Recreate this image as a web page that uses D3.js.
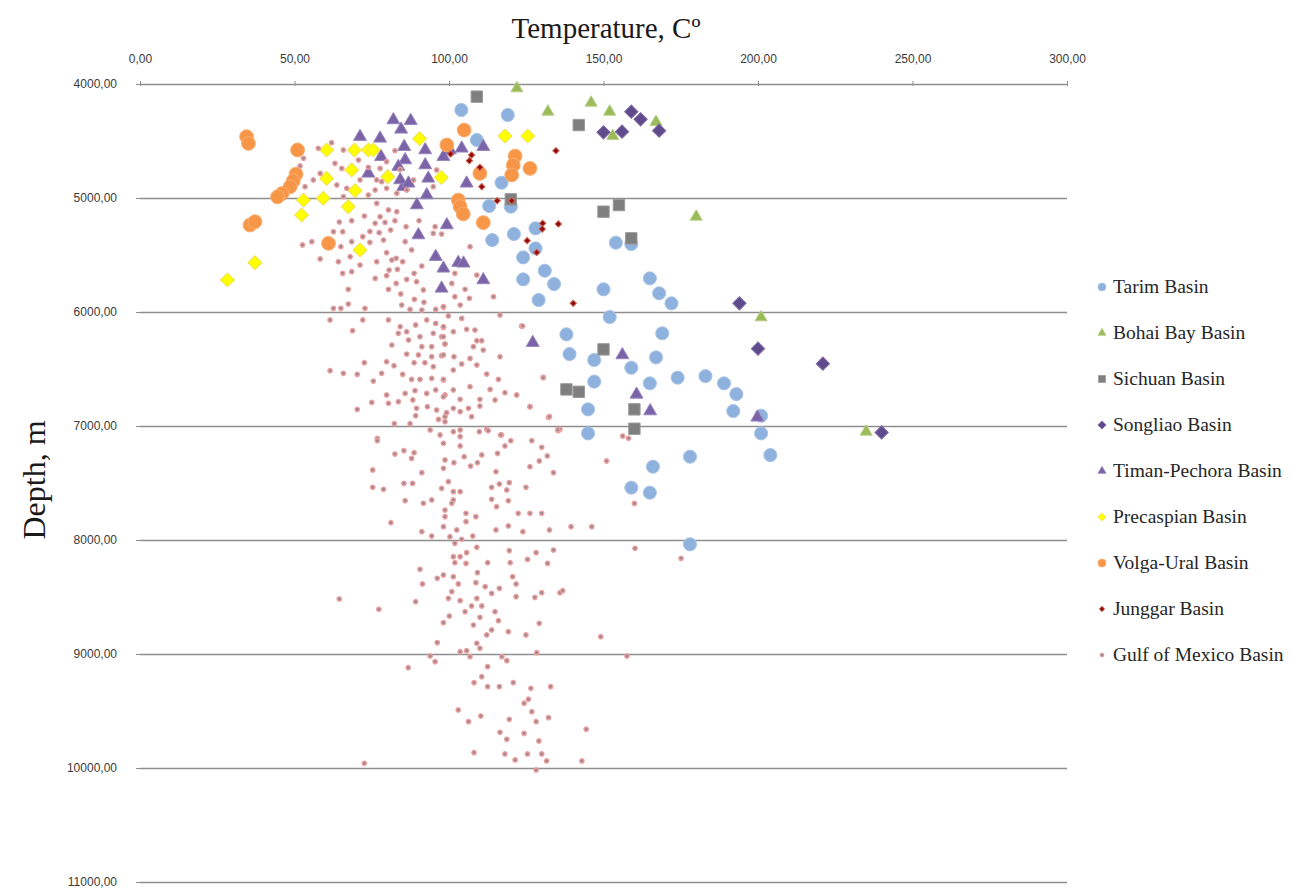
<!DOCTYPE html>
<html>
<head>
<meta charset="utf-8">
<script src="https://cdn.jsdelivr.net/npm/d3@7"></script>
<style>
  body { margin: 0; background: #fff; }
</style>
</head>
<body>
<div id="scatter"></div>
<script>
// SVG area
var svgWidth = 1292;
var svgHeight = 890;

// chart margins (axis sits on top, legend on the right)
var chartMargin = { top: 84, right: 225, bottom: 8, left: 140 };
var chartWidth = svgWidth - chartMargin.left - chartMargin.right;
var chartHeight = svgHeight - chartMargin.top - chartMargin.bottom;

// tick values
var xTicks = [0, 50, 100, 150, 200, 250, 300];
var yTicks = [4000, 5000, 6000, 7000, 8000, 9000, 10000, 11000];

// series names, in legend order
var basins = ["Tarim Basin", "Bohai Bay Basin", "Sichuan Basin", "Songliao Basin",
  "Timan-Pechora Basin", "Precaspian Basin", "Volga-Ural Basin", "Junggar Basin",
  "Gulf of Mexico Basin"];

// [temperature C, depth m]
var tarimPts = [[104,4228],[119,4272],[109,4491],[117,4866],[113,5070],[120,5076],[121,5316],
  [114,5369],[128,5266],[128,5442],[124,5521],[131,5638],[134,5755],[124,5714],[129,5895],
  [154,5392],[159,5404],[150,5801],[165,5705],[168,5836],[172,5924],[152,6044],[138,6196],
  [169,6187],[139,6369],[147,6421],[159,6489],[167,6398],[147,6611],[165,6626],[174,6576],
  [183,6562],[189,6626],[193,6720],[145,6854],[192,6869],[201,6910],[145,7065],[201,7065],
  [204,7255],[178,7269],[166,7357],[159,7541],[165,7585],[178,8038]];

var bohaiPts = [[122,4038],[132,4243],[146,4164],[152,4243],[153,4456],[167,4333],[180,5164],
  [201,6047],[235,7050]];

var sichuanPts = [[109,4111],[142,4360],[150,5120],[155,5062],[159,5354],[120,5012],[150,6328],
  [138,6679],[142,6700],[160,6854],[160,7024]];

var songliaoPts = [[159,4243],[162,4310],[150,4424],[156,4418],[168,4409],[194,5924],[200,6322],
  [221,6453],[240,7056]];

var timanPts = [[82,4316],[87.6,4322],[84.5,4398],[71.2,4462],[77.7,4477],[78,4638],[85.5,4550],
  [92.3,4579],[92.3,4711],[93.3,4828],[85.8,4667],[85.2,4901],[84.2,4842],[73.9,4784],
  [89.6,5062],[92.8,4974],[99.3,5237],[90.1,5325],[95.7,5515],[98.2,5617],[103,5567],
  [104.7,5573],[97.6,5793],[100.3,4579],[104.1,4564],[105.7,4871],[98.2,4638],[111.1,4550],
  [111.1,5719],[83.6,4725],[86.9,4871],[127.1,6269],[156.1,6377],[160.7,6723],[165.1,6869],
  [199.8,6924]];

var precaspianPts = [[90.5,4480],[60.4,4579],[69.4,4579],[73.9,4579],[75.5,4579],[68.5,4754],
  [60.4,4828],[80.2,4813],[97.5,4820],[69.6,4935],[52.9,5018],[59.3,5003],[67.4,5076],
  [52.3,5149],[71.2,5456],[37.2,5567],[28.3,5719],[118.1,4456],[125.5,4456]];

var volgaPts = [[34.5,4462],[35.1,4521],[51,4579],[50.5,4790],[49.6,4850],[48.6,4901],[46,4960],
  [44.5,4990],[35.6,5237],[37.2,5208],[61,5398],[104.9,4404],[99.3,4535],[121.4,4632],
  [120.8,4711],[120.3,4798],[126.2,4740],[110,4784],[103,5018],[103.6,5076],[104.6,5140],
  [111.1,5216]];

var junggarPts = [[134.6,4585],[100.5,4614],[107.3,4623],[106.6,4673],[110,4731],[110.6,4901],
  [115.6,5024],[120.3,5024],[130.3,5222],[135.4,5228],[130.2,5272],[125.3,5374],[128.4,5477],
  [140.2,5924]];

var gulfPts = [
  [62.0,4515],[57.7,4564],[65.8,4579],[52.9,4652],[51.8,4719],[63.1,4696],[65.3,4740],[73.9,4731],
  [77.7,4740],[79.8,4681],[82.5,4585],[53.4,4901],[56.1,4842],[63.7,4886],[66.9,4915],[76.1,4930],
  [78.2,4857],[84.2,4749],[83.1,4959],[88.5,4842],[79.8,4915],[71.2,4842],[58.3,4784],[96.0,4754],
  [94.9,4901],[65.8,4988],[73.9,4974],[70.7,4667],[76.6,4842],[86.3,4930],
  [76.6,5047],[83.1,5120],[80.4,5105],[72.6,5158],[68.5,5199],[64.5,5211],[77.7,5164],[76.1,5222],
  [79.3,5214],[82.5,5199],[86.1,5252],[90.3,5199],[62.6,5296],[65.6,5296],[72.1,5339],[74.4,5293],
  [77.4,5304],[81.1,5281],[55.6,5383],[52.6,5412],[65.0,5427],[68.5,5383],[74.4,5389],[78.8,5369],
  [85.8,5383],[87.9,5456],[94.9,5310],[58.3,5535],[64.2,5559],[68.0,5515],[71.2,5588],[76.6,5559],
  [79.8,5480],[81.5,5544],[82.9,5529],[85.0,5559],[80.6,5632],[83.3,5626],[68.5,5646],[65.6,5661],
  [76.1,5705],[79.8,5681],[82.9,5749],[86.3,5714],[88.7,5661],[91.2,5597],[89.5,5734],[91.7,5807],
  [67.4,5801],[80.4,5801],[84.4,5842],[88.8,5889],[91.9,5915],[67.4,5930],[62.6,5968],[65.0,5968],
  [72.8,5968],[84.7,5939],[87.4,5977],[91.2,5983],[95.7,5977],[98.2,5959],[61.5,6070],[72.1,6070],
  [80.4,6070],[84.2,6129],[89.2,6114],[92.8,6070],[95.7,6100],[98.2,6135],[68.8,6164],[83.6,6187],
  [86.3,6173],[90.6,6217],[94.9,6187],[97.6,6217],[81.5,6290],[86.9,6246],[91.2,6304],[94.4,6304],
  [98.7,6281],[86.3,6369],[90.1,6377],[94.4,6392],[97.6,6383],[72.6,6445],[79.8,6436],[82.2,6471],
  [88.7,6445],[92.2,6445],[94.9,6480],[61.5,6515],[65.8,6538],[70.3,6547],[78.2,6538],[85.0,6547],
  [87.9,6591],[90.6,6591],[94.4,6582],[98.2,6597],[75.5,6606],[85.8,6714],[89.0,6690],[92.8,6714],
  [95.7,6684],[98.7,6728],[79.8,6728],[83.6,6787],[88.3,6772],[75.0,6793],[80.4,6801],[89.5,6845],
  [93.0,6831],[96.0,6860],[70.3,6854],[89.2,6910],[96.6,6942],[98.7,6918],[82.3,6980],[87.4,6980],
  [93.9,7035],[76.8,7108],[97.1,7079],
  [95.5,5252],[97.6,5316],[106.8,5427],[101.9,5661],[109.0,5676],[100.9,5749],[105.2,5801],
  [114.4,5866],[101.9,5866],[106.6,5880],[98.2,5953],[103.6,5939],[99.8,6035],[104.1,6056],
  [116.5,6027],[123.5,6123],[98.2,6129],[101.4,6173],[105.7,6152],[108.4,6158],[98.2,6217],
  [109.0,6252],[110.6,6252],[98.7,6281],[107.9,6304],[111.1,6334],[98.2,6377],[101.6,6392],
  [106.8,6407],[116.5,6392],[104.1,6456],[109.0,6465],[101.4,6509],[112.2,6544],[116.0,6591],
  [130.5,6573],[98.2,6591],[106.8,6655],[101.4,6684],[113.3,6679],[118.1,6708],[121.9,6728],
  [98.2,6743],[103.6,6766],[110.0,6766],[114.9,6772],[101.4,6845],[106.3,6845],[110.0,6825],
  [126.2,6831],[99.2,6883],[103.6,6874],[107.3,6918],[98.7,6962],[132.2,6924],[112.2,7029],
  [117.0,7079],[103.6,7035],[135.9,7029],
  [76.8,7129],[82.5,7246],[85.4,7216],[88.7,7234],[87.9,7284],[75.3,7386],[91.2,7409],[75.3,7538],
  [78.8,7555],[85.4,7503],[88.2,7503],[85.8,7655],[91.7,7678],[94.4,7649],[81.2,7848],[91.2,7927],
  [94.4,7965],[90.6,8257],[91.4,8386],[96.2,8336],[64.5,8517],[77.3,8608],[89.2,8541],[96.2,8900],
  [93.9,9017],[95.5,9067],[86.8,9120],
  [101.4,7050],[103.6,7093],[98.2,7152],[109.8,7050],[112.7,7041],[116.7,7079],[120.0,7129],
  [126.8,7129],[135.4,7041],[103.6,7175],[98.7,7298],[101.6,7322],[104.9,7269],[107.0,7351],
  [109.2,7322],[110.6,7254],[115.7,7240],[118.1,7175],[130.0,7187],[131.8,7263],[129.2,7307],
  [126.2,7357],[133.8,7409],[151.0,7307],[98.2,7371],[115.2,7401],[99.8,7488],[97.6,7547],
  [101.4,7576],[103.6,7576],[113.8,7538],[116.3,7509],[119.5,7497],[118.7,7561],[124.9,7538],
  [113.8,7643],[119.2,7655],[115.4,7708],[101.4,7649],[100.9,7678],[98.7,7737],[98.7,7795],
  [105.5,7766],[105.5,7839],[108.7,7795],[122.4,7766],[126.2,7766],[130.0,7766],[98.2,7883],
  [102.5,7912],[115.2,7912],[119.2,7877],[123.9,7927],[132.5,7912],[139.5,7883],[146.2,7883],
  [100.3,7971],[104.1,7994],[107.7,7965],[101.9,8029],[109.0,8064],[105.7,8111],[101.4,8146],
  [103.6,8146],[101.9,8199],[105.5,8205],[112.5,8199],[119.5,8093],[119.8,8199],[125.4,8170],
  [128.2,8111],[131.9,8205],[133.8,8088],[109.2,8286],[98.2,8307],[101.4,8322],[120.6,8322],
  [121.7,8386],[103.0,8386],[108.7,8374],[111.7,8409],[116.3,8424],[113.8,8468],[100.9,8453],
  [99.8,8512],[103.6,8532],[109.0,8512],[121.7,8497],[127.8,8503],[130.0,8462],[135.9,8462],
  [136.8,8445],[107.3,8579],[110.6,8579],[105.2,8629],[100.1,8667],[110.0,8678],[114.9,8629],
  [116.0,8708],[98.2,8725],[107.9,8746],[113.8,8789],[112.2,8833],[119.2,8804],[124.9,8833],
  [129.2,8731],[149.1,8848],[109.0,8906],[110.0,8950],[103.6,8980],[105.7,8971],[106.8,9023],
  [117.1,9023],[118.7,9058],[128.4,8988],[112.5,9111],[110.6,9199],[157.6,9018],
  [108.1,9251],[112.5,9286],[116.3,9286],[120.8,9251],[126.5,9301],[132.9,9286],[125.7,9397],
  [124.3,9432],[103.0,9491],[110.3,9544],[106.3,9593],[119.5,9573],[126.8,9506],[128.2,9593],
  [132.2,9558],[116.5,9687],[118.7,9748],[124.3,9696],[129.1,9763],[144.4,9660],[108.1,9865],
  [118.1,9877],[121.4,9929],[125.4,9877],[130.0,9877],[131.6,9938],[143.0,9938],[72.6,9959],
  [128.2,10017],
  [123.8,6123],[130.5,6576],[126.2,6831],[132.5,6918],[135.2,7035],[156.2,7088],[158.1,7108],
  [160.0,7679],[160.2,8073],[175.1,8161]];

var seriesData = [tarimPts, bohaiPts, sichuanPts, songliaoPts, timanPts, precaspianPts,
  volgaPts, junggarPts, gulfPts];

// marker styles per series
var markerStyle = [
  { shape: d3.symbolCircle,   size: 135, fill: "#8fb1dd", stroke: "#a9c4e6", rot: 0,  lsize: 50 },
  { shape: d3.symbolTriangle, size: 62,  fill: "#9bbb59", stroke: "#b4cd82", rot: 0,  lsize: 28 },
  { shape: d3.symbolSquare,   size: 130, fill: "#7f7f7f", stroke: "#9a9a9a", rot: 0,  lsize: 50 },
  { shape: d3.symbolSquare,   size: 88,  fill: "#5f4a8b", stroke: "#7d6aa3", rot: 45, lsize: 34 },
  { shape: d3.symbolTriangle, size: 72,  fill: "#7b63a8", stroke: "#9784bd", rot: 0,  lsize: 28 },
  { shape: d3.symbolSquare,   size: 95,  fill: "#ffff00", stroke: "#f0e050", rot: 45, lsize: 34 },
  { shape: d3.symbolCircle,   size: 150, fill: "#f79646", stroke: "#f9ae72", rot: 0,  lsize: 50 },
  { shape: d3.symbolSquare,   size: 20,  fill: "#8b0a0a", stroke: "#d0604f", rot: 45, lsize: 14 },
  { shape: d3.symbolCircle,   size: 15,  fill: "#a08890", stroke: "#eda0a0", rot: 0,  lsize: 12 }
];

var svg = d3.select("#scatter")
  .append("svg")
  .attr("width", svgWidth)
  .attr("height", svgHeight)
  .style("background", "#fff");

var chartGroup = svg.append("g")
  .attr("transform", `translate(${chartMargin.left}, ${chartMargin.top})`);

var xScale = d3.scaleLinear().domain([0, 300]).range([0, 927]);
var yScale = d3.scaleLinear().domain([4000, 11000]).range([0, 798]);

var fmt = d => d3.format(".2f")(d).replace(".", ",");

// horizontal gridlines via left axis
var gridAxis = d3.axisLeft(yScale).tickValues(yTicks).tickSize(-xScale(300)).tickFormat("");
var grid = chartGroup.append("g").call(gridAxis);
grid.select(".domain").remove();
grid.selectAll("line").attr("stroke", "#8e8e8e").attr("stroke-width", 1.6);

// left axis: small tick marks and labels
var leftAxis = d3.axisLeft(yScale).tickValues(yTicks).tickFormat(fmt).tickSize(4).tickPadding(19);
var yAxisG = chartGroup.append("g").call(leftAxis);
yAxisG.select(".domain").remove();
yAxisG.selectAll("line").attr("stroke", "#8e8e8e").attr("x2", -4).attr("x1", 3);
yAxisG.selectAll("text")
  .attr("font-family", "'Liberation Sans', Arial, sans-serif")
  .attr("font-size", 12)
  .attr("fill", "#3a3a3a");

// top axis
var topAxis = d3.axisTop(xScale).tickValues(xTicks).tickFormat(fmt).tickSize(3).tickPadding(18);
var xAxisG = chartGroup.append("g").call(topAxis);
xAxisG.select(".domain").remove();
xAxisG.selectAll("line").attr("stroke", "#8e8e8e").attr("y1", 2);
xAxisG.selectAll("text")
  .attr("font-family", "'Liberation Sans', Arial, sans-serif")
  .attr("font-size", 12)
  .attr("fill", "#3a3a3a");

// points, drawn in legend order so the Gulf dots sit on top
seriesData.forEach(function(pts, i) {
  var st = markerStyle[i];
  var sym = d3.symbol().type(st.shape).size(st.size);
  chartGroup.append("g")
    .selectAll("path")
    .data(pts)
    .enter()
    .append("path")
    .attr("d", sym)
    .attr("transform", d => `translate(${xScale(d[0])},${yScale(d[1])}) rotate(${st.rot})`)
    .attr("fill", st.fill)
    .attr("stroke", st.stroke)
    .attr("stroke-width", i === 8 ? 1.4 : 1);
});

// titles
svg.append("text")
  .attr("x", 606)
  .attr("y", 38)
  .attr("text-anchor", "middle")
  .attr("font-family", "'Liberation Serif', 'Times New Roman', serif")
  .attr("font-size", 29)
  .attr("fill", "#1a1a1a")
  .text("Temperature, Cº");

svg.append("text")
  .attr("transform", "translate(45, 480) rotate(-90)")
  .attr("text-anchor", "middle")
  .attr("font-family", "'Liberation Serif', 'Times New Roman', serif")
  .attr("font-size", 32)
  .attr("fill", "#1a1a1a")
  .text("Depth, m");

// legend
var legend = svg.append("g").attr("transform", "translate(1102, 287)");
basins.forEach(function(name, i) {
  var st = markerStyle[i];
  var row = legend.append("g").attr("transform", `translate(0, ${i * 46})`);
  row.append("path")
    .attr("d", d3.symbol().type(st.shape).size(st.lsize))
    .attr("transform", `rotate(${st.rot})`)
    .attr("fill", st.fill)
    .attr("stroke", st.stroke)
    .attr("stroke-width", 0.8);
  row.append("text")
    .attr("x", 11)
    .attr("y", 6)
    .attr("font-family", "'Liberation Serif', 'Times New Roman', serif")
    .attr("font-size", 19.5)
    .attr("fill", "#262626")
    .text(name);
});
</script>
</body>
</html>
